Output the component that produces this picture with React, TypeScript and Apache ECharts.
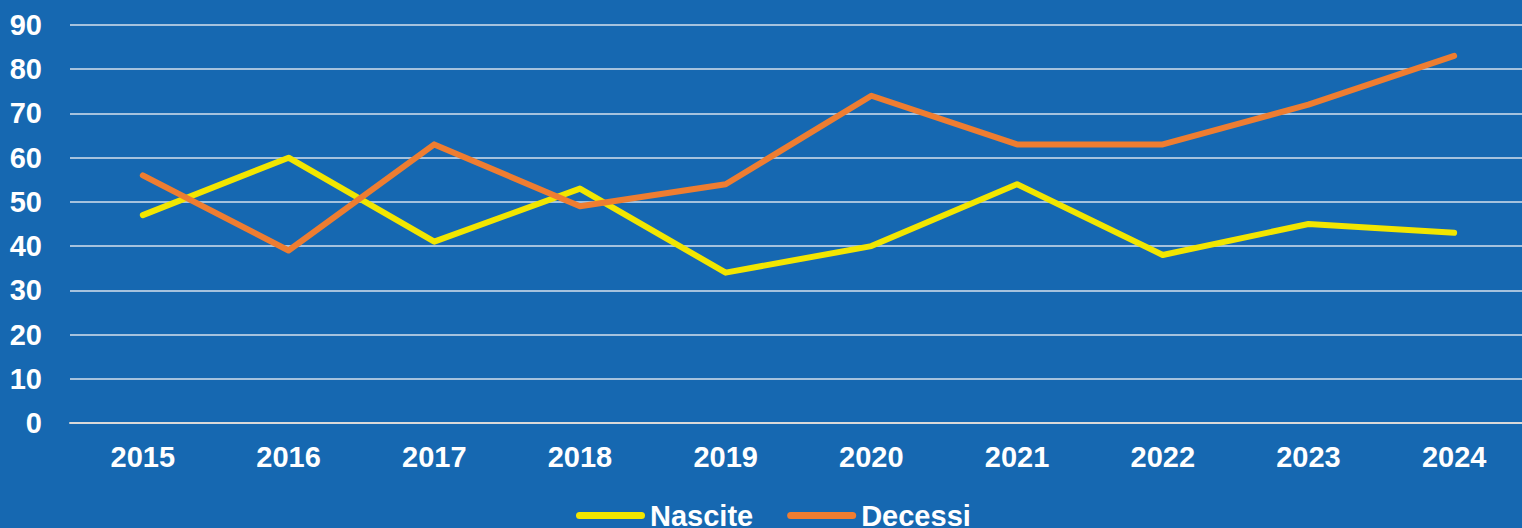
import React, { useEffect, useRef } from "react";
import * as echarts from "echarts";

const years = ["2015", "2016", "2017", "2018", "2019", "2020", "2021", "2022", "2023", "2024"];
const nascite = [47, 60, 41, 53, 34, 40, 54, 38, 45, 43];
const decessi = [56, 39, 63, 49, 54, 74, 63, 63, 72, 83];

const BG = "#1668B1";
const FONT = "'Liberation Sans', Arial, sans-serif";

export default function App() {
  const ref = useRef<HTMLDivElement>(null);
  useEffect(() => {
    if (!ref.current) return;
    const chart = echarts.init(ref.current, null, { renderer: "svg" });
    const legendIcon = "path://M3.5,0 H65.5 A3.5,3.5 0 0 1 65.5,7 H3.5 A3.5,3.5 0 0 1 3.5,0 Z";
    chart.setOption({
      animation: false,
      backgroundColor: BG,
      grid: { left: 70, right: 0, top: 25, bottom: 105 },
      legend: {
        left: 576,
        top: 501,
        padding: 0,
        itemWidth: 69,
        itemHeight: 7,
        itemGap: 34,
        textStyle: { color: "#fff", fontSize: 29, fontWeight: "bold", fontFamily: FONT },
        data: [
          { name: "Nascite", icon: legendIcon, itemStyle: { color: "#F2E600" } },
          { name: "Decessi", icon: legendIcon, itemStyle: { color: "#EE7D31" } },
        ],
      },
      xAxis: {
        type: "category",
        data: years,
        boundaryGap: true,
        axisTick: { show: false },
        axisLine: { show: true, lineStyle: { color: "#D9D9D9", width: 2 } },
        axisLabel: { color: "#fff", fontSize: 29, fontWeight: "bold", fontFamily: FONT, margin: 19 },
        splitLine: { show: false },
      },
      yAxis: {
        type: "value",
        min: 0,
        max: 90,
        interval: 10,
        axisLine: { show: false },
        axisTick: { show: false },
        axisLabel: { color: "#fff", fontSize: 29, fontWeight: "bold", fontFamily: FONT, margin: 28 },
        splitLine: { lineStyle: { color: "#D6E1EE", width: 1.5 } },
      },
      series: [
        {
          name: "Nascite",
          type: "line",
          data: nascite,
          showSymbol: false,
          symbol: "none",
          color: "#F2E600",
          lineStyle: { color: "#F2E600", width: 6, cap: "round", join: "round" },
        },
        {
          name: "Decessi",
          type: "line",
          data: decessi,
          showSymbol: false,
          symbol: "none",
          color: "#EE7D31",
          lineStyle: { color: "#EE7D31", width: 6, cap: "round", join: "round" },
        },
      ],
    });
    return () => chart.dispose();
  }, []);
  return (
    <div
      ref={ref}
      style={{ position: "fixed", left: 0, top: 0, width: 1527, height: 528 }}
    />
  );
}
